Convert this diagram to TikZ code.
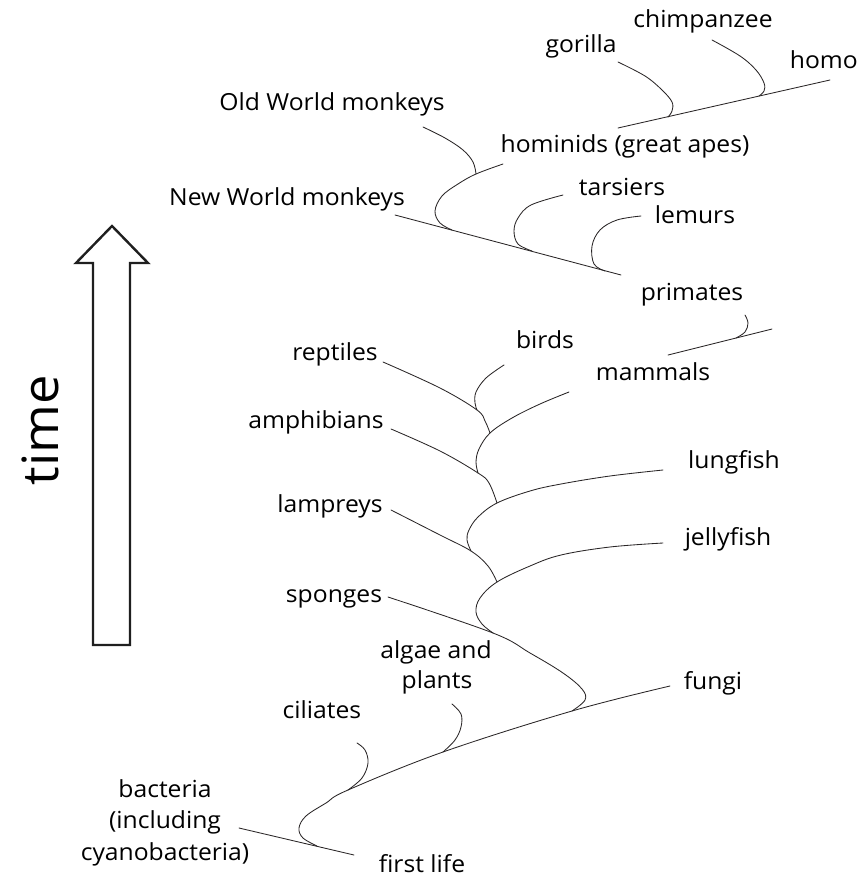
\documentclass[tikz,border=0pt]{standalone}
\usepackage{fontspec}
\setmainfont{Open Sans}[FakeStretch=1.05]
\definecolor{linegray}{HTML}{2A2627}
\begin{document}
\begin{tikzpicture}[x=1pt,y=-1pt,
  lbl/.style={font=\fontsize{23.5}{28}\selectfont, inner sep=0pt, text height=0.72em, text depth=0pt, text=black},
  br/.style={draw=linegray, line width=0.85pt, line cap=round},
  sm/.style={br, smooth, tension=0.6}]
\useasboundingbox (0,0) rectangle (862,882);

% time arrow
\draw[line width=2.4pt, draw=black!88, fill=white, line join=miter]
  (93,645) -- (93,263) -- (76,263) -- (112,226) -- (148,263) -- (130,263) -- (130,645) -- cycle;
\node[font=\fontsize{50}{54}\selectfont, rotate=90, inner sep=0pt] (time) at (40,430) {time};

% labels
\node[lbl] (chimp) at (703,24) {chimpanzee};
\node[lbl] (gorilla) at (581,49) {gorilla};
\node[lbl, anchor=east] (homo) at (858,65) {homo};
\node[lbl] (owm) at (332,107) {Old World monkeys};
\node[lbl] (hominids) at (625,149) {hominids (great apes)};
\node[lbl] (tarsiers) at (622,192) {tarsiers};
\node[lbl] (nwm) at (287,202) {New World monkeys};
\node[lbl] (lemurs) at (695,220) {lemurs};
\node[lbl] (primates) at (692,297) {primates};
\node[lbl] (reptiles) at (335,357) {reptiles};
\node[lbl] (birds) at (545,345) {birds};
\node[lbl] (mammals) at (653,377) {mammals};
\node[lbl] (amphibians) at (316,425) {amphibians};
\node[lbl] (lungfish) at (734,465) {lungfish};
\node[lbl] (lampreys) at (330,509) {lampreys};
\node[lbl] (jellyfish) at (728,542) {jellyfish};
\node[lbl] (sponges) at (334,599) {sponges};
\node[lbl] (algae) at (436,655) {algae and};
\node[lbl] (plants) at (437,685) {plants};
\node[lbl] (fungi) at (713,686) {fungi};
\node[lbl] (ciliates) at (322,715) {ciliates};
\node[lbl] (bact1) at (165,794) {bacteria};
\node[lbl] (bact2) at (165,825) {(including};
\node[lbl] (bact3) at (165,857) {cyanobacteria)};
\node[lbl] (firstlife) at (422,869) {first life};

% junction / end coordinates
\coordinate (bS) at (239,828);
\coordinate (bE) at (354,855);
\coordinate (jBase) at (317,846);
\coordinate (jCil) at (348,790);
\coordinate (jAlg) at (443,752);
\coordinate (jSpo) at (572,711);
\coordinate (fE) at (670,686);
\coordinate (jJel) at (493,633);
\coordinate (jLam) at (497,582);
\coordinate (jLung) at (471,551);
\coordinate (jAmp) at (497,503);
\coordinate (jMam) at (478,473);
\coordinate (jRep) at (490,433);
\coordinate (jBird) at (477,410);

% bacteria -- first life
\draw[br] (bS) -- (bE);
% base S curve and fungi line
\draw[sm] plot coordinates {(jBase) (303,838) (299,828) (306,816) (326,803) (jCil) (jAlg) (jSpo) (fE)};
% ciliates
\draw[sm] plot coordinates {(jCil) (362,778) (368,763) (365,750) (357,743)};
% algae and plants
\draw[sm] plot coordinates {(jAlg) (455,740) (461,727) (461,714) (452,704)};
% sponges
\draw[sm] plot coordinates {(388,597) (jJel) (530,653) (563,673) (582,689) (585,700) (jSpo)};
% jellyfish
\draw[sm] plot coordinates {(jJel) (482,624) (476,612) (480,598) (jLam) (530,566) (561,555) (610,547) (663,543)};
% lampreys
\draw[sm] plot coordinates {(391,510) (440,535) (jLung) (488,566) (jLam)};
% lungfish
\draw[sm] plot coordinates {(jLung) (467,540) (469,530) (478,517) (jAmp) (530,491) (561,484) (610,476) (663,470)};
% amphibians
\draw[sm] plot coordinates {(391,429) (440,451) (jMam) (489,483) (jAmp)};
% mammals
\draw[sm] plot coordinates {(jMam) (476,462) (479,449) (jRep) (512,418) (540,404) (569,392)};
% reptiles
\draw[sm] plot coordinates {(383,362) (440,388) (jBird) (485,421) (jRep)};
% birds
\draw[sm] plot coordinates {(504,365) (486,378) (476,392) (475,403) (jBird)};

% primates line (continuation of mammals)
\coordinate (pS) at (668,355);
\coordinate (pE) at (772,329);
\coordinate (jPri) at (736,338);
\draw[br] (pS) -- (pE);
\draw[sm] plot coordinates {(jPri) (745,332) (748,323) (745,315)};

% New World monkeys line
\coordinate (nS) at (395,215);
\coordinate (nE) at (621,275);
\coordinate (jNwm) at (452,230);
\coordinate (jTar) at (532,251);
\coordinate (jLem) at (605,271);
\coordinate (jOwm) at (476,174);
\draw[br] (nS) -- (nE);
% hominids curve
\draw[sm] plot coordinates {(jNwm) (440,223) (435,211) (442,196) (458,184) (jOwm) (503,164)};
% Old World monkeys
\draw[sm] plot coordinates {(423,127) (445,138) (463,150) (473,162) (jOwm)};
% tarsiers
\draw[sm] plot coordinates {(jTar) (518,244) (514,231) (518,218) (531,205) (563,195)};
% lemurs
\draw[sm] plot coordinates {(jLem) (594,264) (592,246) (600,230) (617,220) (641,216)};

% hominid line to homo
\coordinate (hS) at (618,128);
\coordinate (hE) at (830,80);
\coordinate (jGor) at (668,117);
\coordinate (jChi) at (759,96);
\draw[br] (hS) -- (hE);
\draw[sm] plot coordinates {(618,62) (645,76) (662,90) (672,102) (672,111) (jGor)};
\draw[sm] plot coordinates {(712,40) (740,56) (756,70) (764,83) (764,91) (jChi)};
\end{tikzpicture}
\end{document}
